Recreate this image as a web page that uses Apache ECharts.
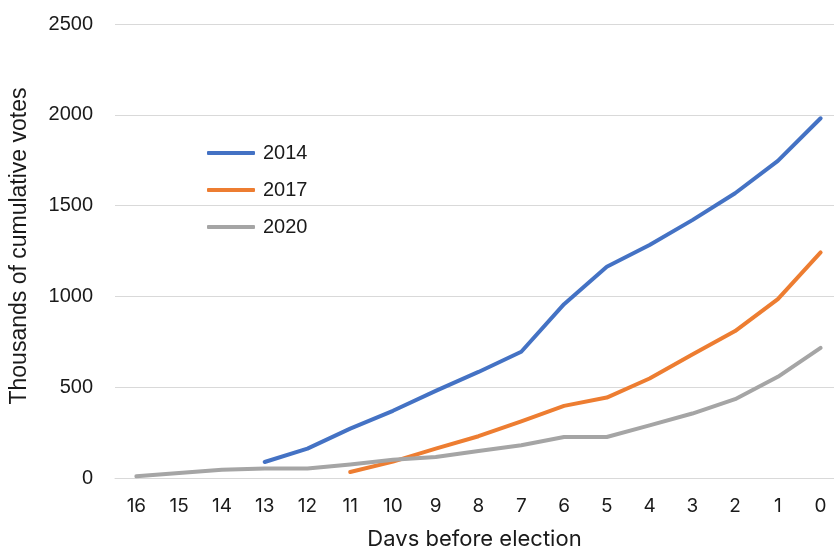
<!DOCTYPE html>
<html>
<head>
<meta charset="utf-8">
<script src="https://cdn.jsdelivr.net/npm/echarts@6/dist/echarts.min.js"></script>
<style>
  html, body { margin: 0; padding: 0; background: #fff; }
  #chart { width: 834px; height: 546px; }
</style>
</head>
<body>
<div id="chart"></div>
<script>
// Days counting down to election day
const days = ['16', '15', '14', '13', '12', '11', '10', '9', '8', '7', '6', '5', '4', '3', '2', '1', '0'];

// Cumulative votes (thousands) per election year; null where no data yet
const votes2014 = [null, null, null, 88, 162, 272, 370, 480, 584, 695, 957, 1163, 1283, 1420, 1568, 1746, 1981];
const votes2017 = [null, null, null, null, null, 33, 90, 162, 230, 312, 397, 443, 548, 680, 809, 985, 1242];
const votes2020 = [9, 28, 46, 52, 52, 74, 101, 116, 149, 180, 226, 226, 290, 355, 434, 557, 717];

const yTicks = { min: 0, max: 2500, interval: 500 };

const tickFont = "'Liberation Sans', Arial, sans-serif";
const titleFont = "Inter, 'Noto Sans', sans-serif";

function lineSeries(name, data, color) {
  return {
    name: name,
    type: 'line',
    data: data,
    symbol: 'none',
    connectNulls: false,
    lineStyle: { width: 4, color: color, cap: 'round', join: 'round' },
    itemStyle: { color: color }
  };
}

const chart = echarts.init(document.getElementById('chart'));
chart.setOption({
  animation: false,
  backgroundColor: '#ffffff',
  // plot area runs slightly past the right edge of the canvas
  grid: {
    left: 115, width: 727, top: 24, bottom: 68,
    containLabel: false, outerBoundsMode: 'none'
  },
  legend: {
    orient: 'vertical',
    left: 202,
    top: 138,
    itemWidth: 48,
    itemHeight: 4,
    itemGap: 17,
    icon: 'roundRect',
    textStyle: { fontFamily: tickFont, fontSize: 20, color: '#1a1a1a', padding: [0, 0, 0, 3] },
    data: ['2014', '2017', '2020']
  },
  xAxis: {
    type: 'category',
    data: days,
    boundaryGap: true,
    name: 'Days before election',
    nameLocation: 'middle',
    nameGap: 50,
    nameTextStyle: { fontFamily: titleFont, fontSize: 22, color: '#1a1a1a', padding: [0, 8, 0, 0] },
    axisLine: { show: true, lineStyle: { color: '#d9d9d9', width: 1 } },
    axisTick: { show: false },
    axisLabel: { fontFamily: titleFont, fontSize: 19, color: '#1a1a1a', margin: 19 }
  },
  yAxis: {
    type: 'value',
    min: yTicks.min,
    max: yTicks.max,
    interval: yTicks.interval,
    name: 'Thousands of cumulative votes',
    nameLocation: 'middle',
    nameGap: 84,
    nameTextStyle: { fontFamily: tickFont, fontSize: 23, color: '#1a1a1a', padding: [0, 0, 0, 10] },
    axisLine: { show: false },
    axisTick: { show: false },
    splitLine: { lineStyle: { color: '#d9d9d9', width: 1 } },
    axisLabel: {
      fontFamily: tickFont, fontSize: 20, color: '#1a1a1a', margin: 22,
      formatter: function (v) { return String(v); }
    }
  },
  series: [
    lineSeries('2014', votes2014, '#4472c4'),
    lineSeries('2017', votes2017, '#ed7d31'),
    lineSeries('2020', votes2020, '#a5a5a5')
  ]
});
</script>
</body>
</html>
